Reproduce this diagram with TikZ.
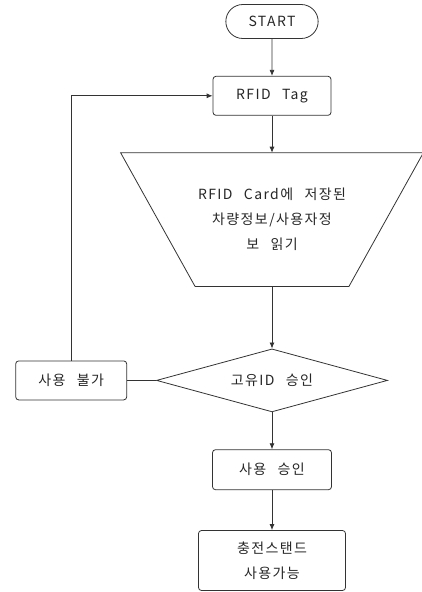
\documentclass[tikz,border=0pt]{standalone}
\usepackage{fontspec}
\setmainfont{Noto Sans CJK KR}[LetterSpace=10, WordSpace=2.5]
\usetikzlibrary{positioning}
\usetikzlibrary{shapes.geometric, shapes.misc}
\usetikzlibrary{arrows.meta}

\begin{document}
\begin{tikzpicture}[
    x=1pt, y=1pt,
    font=\fontsize{14}{25}\selectfont,
    align=center,
    node distance=37pt,
    every node/.style={draw=black!80, line width=0.8pt, text=black!85},
    termbox/.style={rounded rectangle, minimum width=99pt, minimum height=34pt, inner ysep=0pt},
    procbox/.style={rectangle, rounded corners=3pt, minimum height=39pt, inner ysep=0pt},
    readbox/.style={rectangle, draw=none, minimum width=302pt, minimum height=133pt, inner sep=0pt},
    decbox/.style={diamond, aspect=3.67, minimum width=231pt, minimum height=63pt, inner sep=0pt},
    arrowline/.style={-{Latex[length=6pt,width=5pt]}, draw=black!80, line width=0.8pt},
    plainline/.style={-, draw=black!80, line width=0.8pt}
    ]
    \useasboundingbox (0,0) rectangle (422,-592);
    %Nodes
    \node[termbox] (start) at (272,-21.5) {START};
    \node[procbox, minimum width=118pt] (tag) [below=of start] {RFID Tag};
    \node[readbox] (read) [below=of tag] {RFID Card에 저장된\\차량정보/사용자정\\보 읽기};
    \node[decbox] (check) [below=62pt of read] {고유ID 승인};
    \node[procbox, minimum width=111pt] (deny) [left=29pt of check] {사용 불가};
    \node[procbox, minimum width=119pt, minimum height=40pt] (ok) [below=of check] {사용 승인};
    \node[procbox, minimum width=147pt, minimum height=60pt] (use) [below=40pt of ok] {충전스탠드\\사용가능};

    %Trapezoid
    \draw[plainline] (read.north west) -- (read.north east)
        -- ([xshift=-74.5pt]read.south east) -- ([xshift=74.5pt]read.south west) -- cycle;

    %Lines
    \draw[arrowline] (start) -- (tag);
    \draw[arrowline] (tag) -- (read);
    \draw[arrowline] (read) -- (check);
    \draw[arrowline] (check) -- (ok);
    \draw[arrowline] (ok) -- (use);
    \draw[plainline] (check) -- (deny);
    \draw[arrowline] (deny.north) |- (tag.west);

\end{tikzpicture}
\end{document}
